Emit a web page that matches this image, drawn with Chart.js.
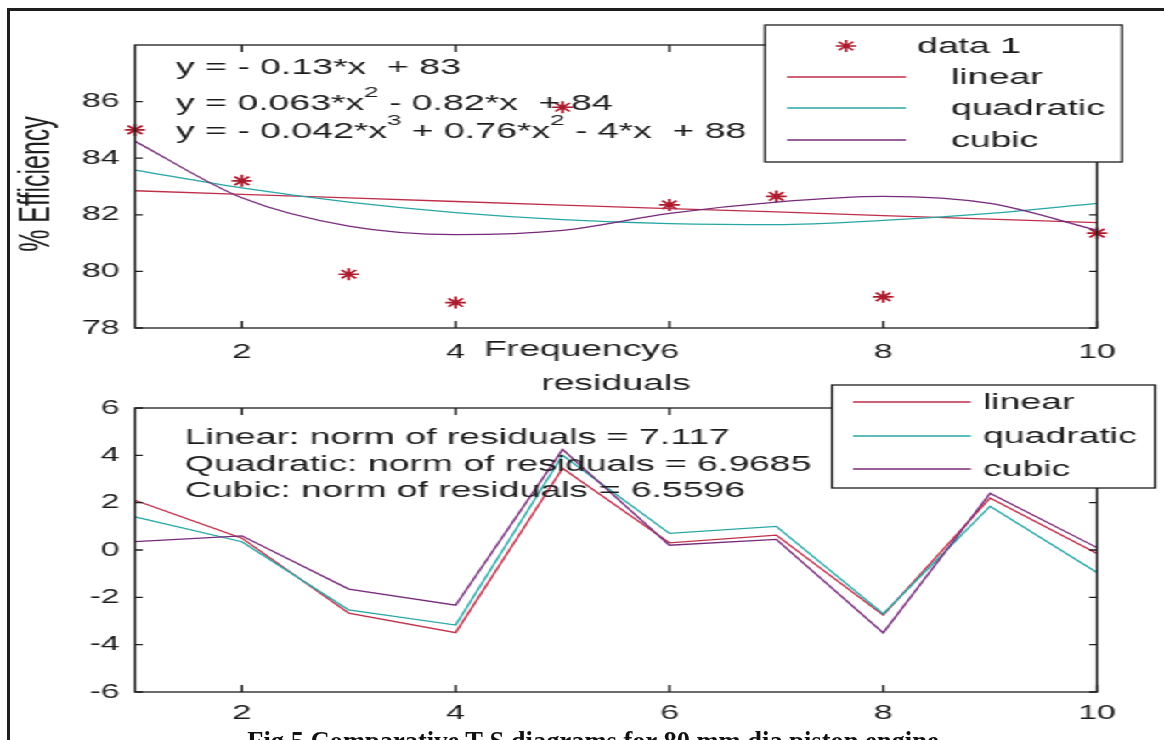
<!DOCTYPE html>
<html>
<head>
<meta charset="utf-8">
<script src="https://cdn.jsdelivr.net/npm/chart.js@4.4.1/dist/chart.umd.min.js"></script>
<style>
  html, body { margin: 0; padding: 0; background: #fff; }
  body { width: 1164px; height: 740px; overflow: hidden; position: relative; }
  #frame { position: absolute; left: 7px; top: 8px; right: -20px; bottom: -20px;
           border-left: 3px solid #1e1e1e; border-top: 3px solid #1e1e1e; }
  /* the source figure is stretched sideways, so draw narrow and stretch */
  #stretch { position: absolute; left: 0; top: 0; width: 685px; height: 740px;
             transform-origin: 0 0; transform: scaleX(1.69927); }
  #topBox { position: absolute; left: 0; top: 0; width: 685px; height: 370px; }
  #botBox { position: absolute; left: 0; top: 370px; width: 685px; height: 370px; }
  #caption { position: absolute; left: 0; width: 1186px; top: 728px; text-align: center;
             font: bold 26.5px "Liberation Serif", "Times New Roman", serif; line-height: 26px;
             white-space: nowrap; color: #111; }
</style>
</head>
<body>
<div id="frame"></div>
<div id="stretch">
  <div id="topBox"><canvas id="topChart"></canvas></div>
  <div id="botBox"><canvas id="botChart"></canvas></div>
</div>
<div id="caption">Fig 5 Comparative T-S diagrams for 80 mm dia piston engine</div>
<script>
// Valores
const freq = [1, 2, 3, 4, 5, 6, 7, 8, 9, 10];
const efficiency = [85.0, 83.2, 79.9, 78.9, 85.8, 82.35, 82.65, 79.1, 84.2, 81.35];
const linearFit = [82.85, 82.72, 82.6, 82.47, 82.34, 82.22, 82.1, 81.97, 81.85, 81.72];
const quadraticFit = [83.58, 82.95, 82.45, 82.08, 81.83, 81.69, 81.65, 81.8, 82.05, 82.4];
const cubicFit = [84.6, 82.6, 81.6, 81.3, 81.45, 82.05, 82.45, 82.65, 82.4, 81.45];
const linearRes = [2.1, 0.5, -2.67, -3.49, 3.45, 0.3, 0.63, -2.75, 2.2, -0.15];
const quadraticRes = [1.4, 0.35, -2.53, -3.17, 4.0, 0.7, 1.0, -2.7, 1.85, -0.95];
const cubicRes = [0.35, 0.6, -1.65, -2.33, 4.25, 0.2, 0.45, -3.5, 2.4, 0.1];
const freqTicks = [2, 4, 6, 8, 10];
const effTicks = [78, 80, 82, 84, 86];
const resTicks = [-6, -4, -2, 0, 2, 4, 6];

const fitLabels = ['linear', 'quadratic', 'cubic'];
const fitEquations = [
    [['y = - 0.13*x  + 83']],
    [['y = 0.063*x'], ['2', 'sup'], [' - 0.82*x  + 84']],
    [['y = - 0.042*x'], ['3', 'sup'], [' + 0.76*x'], ['2', 'sup'], [' - 4*x  + 88']]
];
const normTexts = [
    [['Linear: norm of residuals = 7.117']],
    [['Quadratic: norm of residuals = 6.9685']],
    [['Cubic: norm of residuals = 6.5596']]
];

const COLORS = { data: '#ad1a2c', linear: '#bf2e48', quadratic: '#28a6a6', cubic: '#762a7a' };
const INK = '#1c1c1c';
const FONT = '"Liberation Sans", Arial, Helvetica, sans-serif';
const S = 1164 / 685;
const sx = v => v / S;   // x da figura -> x do canvas

Chart.defaults.font.family = FONT;

function drawRich(ctx, parts, x, y, size) {
    let cx = x;
    parts.forEach(([txt, kind]) => {
        const sup = kind === 'sup';
        const fs = sup ? size * 0.7 : size;
        ctx.font = `${fs}px ${FONT}`;
        ctx.fillText(txt, cx, sup ? y - size * 0.58 : y);
        cx += ctx.measureText(txt).width;
    });
}

function drawStar(ctx, x, y, r, color) {
    const d = r * Math.SQRT1_2;
    ctx.save();
    ctx.strokeStyle = color;
    ctx.lineWidth = 1.6;
    ctx.beginPath();
    ctx.moveTo(x - r, y); ctx.lineTo(x + r, y);
    ctx.moveTo(x, y - r); ctx.lineTo(x, y + r);
    ctx.moveTo(x - d, y - d); ctx.lineTo(x + d, y + d);
    ctx.moveTo(x - d, y + d); ctx.lineTo(x + d, y - d);
    ctx.stroke();
    ctx.restore();
}

// Caixa, marcas internas, textos e legenda no estilo MATLAB
function overlay(cfg) {
    return {
        id: 'overlay',
        afterDatasetsDraw(chart) {
            const { ctx, chartArea: a, scales: { x, y } } = chart;
            const oy = cfg.offsetY;
            ctx.save();
            ctx.strokeStyle = INK;
            ctx.lineWidth = 1.3;
            ctx.strokeRect(a.left, a.top, a.right - a.left, a.bottom - a.top);
            ctx.beginPath();
            x.ticks.forEach(t => {
                const p = x.getPixelForValue(t.value);
                ctx.moveTo(p, a.bottom); ctx.lineTo(p, a.bottom - 7);
                ctx.moveTo(p, a.top); ctx.lineTo(p, a.top + 7);
            });
            y.ticks.forEach(t => {
                const p = y.getPixelForValue(t.value);
                ctx.moveTo(a.left, p); ctx.lineTo(a.left + 4.5, p);
                ctx.moveTo(a.right, p); ctx.lineTo(a.right - 4.5, p);
            });
            ctx.stroke();

            // textos
            ctx.fillStyle = INK;
            ctx.textAlign = 'left';
            ctx.textBaseline = 'alphabetic';
            cfg.notes.forEach((line, i) => drawRich(ctx, line, sx(cfg.notesX), cfg.notesY[i] - oy, 22));

            cfg.labels.forEach(l => {
                ctx.save();
                ctx.font = `${l.size}px ${FONT}`;
                ctx.textAlign = 'center';
                ctx.textBaseline = l.rotate ? 'middle' : 'alphabetic';
                ctx.translate(sx(l.x), l.y - oy);
                if (l.rotate) ctx.rotate(-Math.PI / 2);
                ctx.fillText(l.text, 0, 0);
                ctx.restore();
            });

            // legenda
            const lg = cfg.legend;
            const [bx0, by0, bx1, by1] = lg.box;
            ctx.fillStyle = '#fff';
            ctx.fillRect(sx(bx0), by0 - oy, sx(bx1) - sx(bx0), by1 - by0);
            ctx.strokeStyle = INK;
            ctx.lineWidth = 1.3;
            ctx.strokeRect(sx(bx0), by0 - oy, sx(bx1) - sx(bx0), by1 - by0);
            ctx.font = `22px ${FONT}`;
            ctx.fillStyle = INK;
            ctx.textBaseline = 'middle';
            lg.rows.forEach(r => {
                const ry = r.y - oy;
                if (r.marker) {
                    drawStar(ctx, sx(lg.markerX), ry, 6, r.color);
                    ctx.fillText(r.label, sx(lg.markerTextX), ry + 1);
                } else {
                    ctx.strokeStyle = r.color;
                    ctx.lineWidth = 1.3;
                    ctx.beginPath();
                    ctx.moveTo(sx(lg.lineX[0]), ry);
                    ctx.lineTo(sx(lg.lineX[1]), ry);
                    ctx.stroke();
                    ctx.fillText(r.label, sx(lg.textX), ry + 1);
                }
            });
            ctx.restore();
        }
    };
}

function pts(ys) {
    return freq.map((f, i) => ({ x: f, y: ys[i] }));
}

function axes(yMin, yMax, yTicks, xHeight, xPad) {
    const tickFont = { size: 20, family: FONT };
    return {
        x: {
            type: 'linear', min: 1, max: 10,
            afterBuildTicks: s => { s.ticks = freqTicks.map(v => ({ value: v })); },
            afterFit: s => { s.height = xHeight; },
            grid: { display: false, drawTicks: false },
            border: { display: false },
            ticks: { font: tickFont, color: INK, padding: xPad, maxRotation: 0, autoSkip: false }
        },
        y: {
            type: 'linear', min: yMin, max: yMax,
            afterBuildTicks: s => { s.ticks = yTicks.map(v => ({ value: v })); },
            afterFit: s => { s.width = sx(135); },
            grid: { display: false, drawTicks: false },
            border: { display: false },
            ticks: { font: tickFont, color: INK, padding: 9, autoSkip: false }
        }
    };
}

const baseOptions = (padTop, scales) => ({
    animation: false,
    responsive: true,
    maintainAspectRatio: false,
    layout: { padding: { left: 0, right: 685 - sx(1097), top: padTop, bottom: 0 } },
    plugins: { legend: { display: false }, tooltip: { enabled: false } },
    scales
});

// Gráfico de eficiência
new Chart(document.getElementById('topChart'), {
    type: 'scatter',
    data: {
        datasets: [
            { label: 'data 1', data: pts(efficiency), showLine: false, pointStyle: 'star',
              pointRadius: 6, pointBorderWidth: 1.7, pointBorderColor: COLORS.data,
              pointBackgroundColor: COLORS.data, clip: false, order: 4 },
            { label: 'linear', data: pts(linearFit), showLine: true, pointRadius: 0,
              borderColor: COLORS.linear, borderWidth: 1.3, tension: 0, order: 3 },
            { label: 'quadratic', data: pts(quadraticFit), showLine: true, pointRadius: 0,
              borderColor: COLORS.quadratic, borderWidth: 1.3, cubicInterpolationMode: 'monotone', order: 2 },
            { label: 'cubic', data: pts(cubicFit), showLine: true, pointRadius: 0,
              borderColor: COLORS.cubic, borderWidth: 1.3, cubicInterpolationMode: 'monotone', order: 1 }
        ]
    },
    options: baseOptions(45, axes(78, 88, effTicks, 42, 12)),
    plugins: [overlay({
        offsetY: 0,
        notes: fitEquations, notesX: 176, notesY: [74, 110, 138],
        labels: [
            { text: 'Frequency', x: 572, y: 356, size: 22 },
            { text: '% Efficiency', x: 38, y: 184, size: 25, rotate: true }
        ],
        legend: {
            box: [765, 25, 1122, 162], lineX: [787, 906], textX: 951, markerX: 846, markerTextX: 917,
            rows: [
                { label: 'data 1', y: 46, color: COLORS.data, marker: true },
                { label: fitLabels[0], y: 77, color: COLORS.linear },
                { label: fitLabels[1], y: 108, color: COLORS.quadratic },
                { label: fitLabels[2], y: 140, color: COLORS.cubic }
            ]
        }
    })]
});

// Gráfico dos resíduos
new Chart(document.getElementById('botChart'), {
    type: 'scatter',
    data: {
        datasets: [
            { label: 'linear', data: pts(linearRes), showLine: true, pointRadius: 0,
              borderColor: COLORS.linear, borderWidth: 1.3, tension: 0, order: 3 },
            { label: 'quadratic', data: pts(quadraticRes), showLine: true, pointRadius: 0,
              borderColor: COLORS.quadratic, borderWidth: 1.3, tension: 0, order: 2 },
            { label: 'cubic', data: pts(cubicRes), showLine: true, pointRadius: 0,
              borderColor: COLORS.cubic, borderWidth: 1.3, tension: 0, order: 1 }
        ]
    },
    options: baseOptions(38, axes(-6, 6, resTicks, 48, 9)),
    plugins: [overlay({
        offsetY: 370,
        notes: normTexts, notesX: 185, notesY: [444, 471, 497],
        labels: [
            { text: 'residuals', x: 616, y: 390, size: 22 }
        ],
        legend: {
            box: [832, 385, 1155, 488], lineX: [853, 971], textX: 983,
            rows: [
                { label: fitLabels[0], y: 402, color: COLORS.linear },
                { label: fitLabels[1], y: 436, color: COLORS.quadratic },
                { label: fitLabels[2], y: 469, color: COLORS.cubic }
            ]
        }
    })]
});
</script>
</body>
</html>
